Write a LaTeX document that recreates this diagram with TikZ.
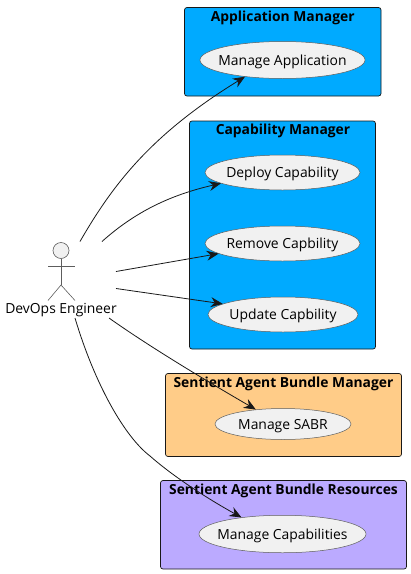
\documentclass[tikz,border=0pt]{standalone}
\usepackage{fontspec}
\setmainfont{Open Sans}
\usetikzlibrary{shapes.geometric,arrows.meta}
\definecolor{ink}{HTML}{181818}
\definecolor{bluebox}{HTML}{00AAFF}
\definecolor{orangebox}{HTML}{FFCC88}
\definecolor{purplebox}{HTML}{BBAAFF}
\definecolor{ucfill}{HTML}{F1F1F1}
\newcommand{\uctext}[1]{\makebox[0pt]{\raisebox{-0.36em}[0pt][0pt]{#1}}}
\tikzset{
  sysbox/.style={draw=ink,line width=0.7pt,rounded corners=2.5pt},
  systitle/.style={font=\fontsize{13.85}{16}\selectfont\bfseries,inner sep=0pt,text=black},
  usecase/.style={ellipse,draw=ink!70,line width=0.5pt,fill=ucfill,inner sep=0pt,font=\fontsize{13.9}{16}\selectfont,text=black},
  link/.style={draw=ink,line width=0.8pt,-{Stealth[length=12pt,width=10pt,inset=4pt]}},
  actorline/.style={draw=ink!70,line width=0.6pt},
}
\begin{document}
\begin{tikzpicture}[x=1pt,y=-1pt]
\useasboundingbox (0,0) rectangle (411,574);
% system boundaries
\node[sysbox,fill=bluebox,minimum width=196.5pt,minimum height=88.5pt,inner sep=0pt] (appbox) at (282.75,51.75) {};
\node[sysbox,fill=bluebox,minimum width=186pt,minimum height=228pt,inner sep=0pt] (capbox) at (282.5,235) {};
\node[sysbox,fill=orangebox,minimum width=236pt,minimum height=83pt,inner sep=0pt] (sabmbox) at (283.5,415) {};
\node[sysbox,fill=purplebox,minimum width=246pt,minimum height=88.5pt,inner sep=0pt] (sabrbox) at (283.5,524.75) {};
\node[systitle] (apptitle) at (282.75,18.3) {Application Manager};
\node[systitle] (captitle) at (283,131.3) {Capability Manager};
\node[systitle] (sabmtitle) at (283.5,384.3) {Sentient Agent Bundle Manager};
\node[systitle] (sabrtitle) at (283.5,491.3) {Sentient Agent Bundle Resources};
% use cases
\node[usecase,minimum width=165pt,minimum height=37pt] (mapp) at (282.5,60) {\uctext{Manage Application}};
\node[usecase,minimum width=155pt,minimum height=35pt] (deploy) at (282.5,172.5) {\uctext{Deploy Capability}};
\node[usecase,minimum width=155pt,minimum height=35pt] (remove) at (282.5,243.5) {\uctext{Remove Capbility}};
\node[usecase,minimum width=150pt,minimum height=35pt] (update) at (283,314.5) {\uctext{Update Capbility}};
\node[usecase,minimum width=136pt,minimum height=31pt] (sabr) at (283,424) {\uctext{Manage SABR}};
\node[usecase,minimum width=167pt,minimum height=37.5pt] (caps) at (282.5,534) {\uctext{Manage Capabilities}};
% actor
\node[circle,draw=ink!70,line width=0.6pt,fill=ucfill,minimum size=16pt,inner sep=0pt] (head) at (61,250.5) {};
\coordinate (hip) at (61,285);
\coordinate (armL) at (48,266);
\coordinate (armR) at (75,266);
\coordinate (footL) at (48,300.5);
\coordinate (footR) at (75,300.5);
\draw[actorline] (head.south) -- (hip);
\draw[actorline] (armL) -- (armR);
\draw[actorline] (footL) -- (hip) -- (footR);
\node[inner sep=0pt,font=\fontsize{13.9}{16}\selectfont,text=black] (devops) at (61,310) {DevOps Engineer};
% connector starts
\coordinate (s1) at (80,241.5);
\coordinate (s2) at (102,241.5);
\coordinate (s3) at (116,271.5);
\coordinate (s4) at (116,288.5);
\coordinate (s5) at (109,318);
\coordinate (s6) at (75,318);
% connectors
\draw[link] (s1) .. controls (112,186) and (150,135) .. (mapp.204);
\draw[link] (s2) .. controls (135,212) and (170,195) .. (deploy.190);
\draw[link] (s3) -- (remove.189);
\draw[link] (s4) -- (update.170);
\draw[link] (s5) .. controls (150,347) and (205,380) .. (sabr.152);
\draw[link] (s6) .. controls (95,385) and (125,437) .. (150,456) .. controls (175,478) and (210,500) .. (caps.158);
\end{tikzpicture}
\end{document}
